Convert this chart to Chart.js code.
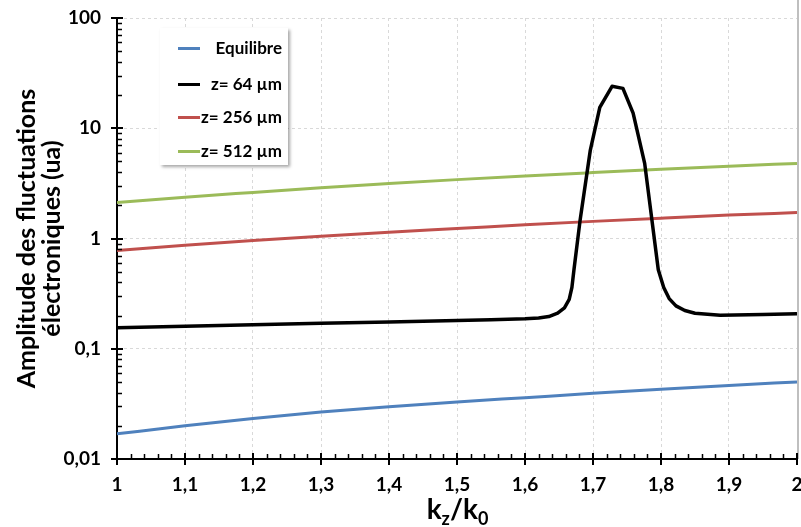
<!DOCTYPE html>
<html>
<head>
<meta charset="utf-8">
<script src="https://cdn.jsdelivr.net/npm/chart.js@4.4.1/dist/chart.umd.min.js"></script>
<style>
  html, body { margin: 0; padding: 0; background: #fff; }
  #wrap { position: relative; width: 801px; height: 527px; }
  #legend { position: absolute; left: 160px; top: 28px; width: 128px; height: 137px; background: #fff;
            box-shadow: 2px 2px 3px rgba(0,0,0,0.35); font: bold 17px Lato, sans-serif; color: #000; }
  .item { position: absolute; left: 0; width: 128px; height: 20px; }
  .swatch { position: absolute; left: 18px; top: 9px; width: 22px; height: 3px; }
  .txt { position: absolute; right: 6px; top: 0; line-height: 20px; white-space: nowrap; }
  #xtitle { position: absolute; left: 57px; width: 801px; top: 493px; text-align: center;
            font: bold 28px Lato, sans-serif; line-height: 30px; color: #000; }
  #xtitle sub { font-size: 18px; vertical-align: -6px; line-height: 0; }
</style>
</head>
<body>
<div id="wrap">
  <canvas id="myChart" width="801" height="527"></canvas>
  <div id="legend"></div>
  <div id="xtitle">k<sub>z</sub>/k<sub>0</sub></div>
</div>
<script>
'use strict';

// ******* DATA *******
let seriesNames = ['Equilibre', 'z= 64 \u00b5m', 'z= 256 \u00b5m', 'z= 512 \u00b5m'];
let seriesColors = ['#4f81bd', '#000000', '#c0504d', '#9bbb59'];

// smooth curves share the same x positions
let xSmooth = [1, 1.1, 1.2, 1.3, 1.4, 1.5, 1.6, 1.7, 1.8, 1.9, 2];
let yEquilibre = [0.0169, 0.0200, 0.0233, 0.0267, 0.0298, 0.0329, 0.0360, 0.0394, 0.0430, 0.0465, 0.0500];
let yZ256 = [0.78, 0.87, 0.96, 1.05, 1.14, 1.23, 1.33, 1.43, 1.53, 1.63, 1.72];
let yZ512 = [2.12, 2.37, 2.62, 2.89, 3.15, 3.42, 3.69, 3.96, 4.24, 4.52, 4.80];

// the peaked curve
let xZ64 = [1, 1.1, 1.2, 1.3, 1.4, 1.5, 1.55, 1.6, 1.62, 1.635, 1.648, 1.658, 1.665, 1.669, 1.672, 1.681, 1.696, 1.71,
  1.728, 1.744, 1.759, 1.776, 1.796, 1.804, 1.812, 1.822, 1.835, 1.85, 1.887, 1.95, 2];
let yZ64 = [0.155, 0.160, 0.165, 0.170, 0.175, 0.180, 0.183, 0.187, 0.190, 0.196, 0.210, 0.235, 0.28, 0.36, 0.52, 1.46, 6.3, 15.5,
  24, 23, 13.7, 4.8, 0.52, 0.36, 0.285, 0.245, 0.222, 0.210, 0.201, 0.204, 0.208];

// axis ticks
let xTicks = [1, 1.1, 1.2, 1.3, 1.4, 1.5, 1.6, 1.7, 1.8, 1.9, 2];
let xTickLabels = ['1', '1,1', '1,2', '1,3', '1,4', '1,5', '1,6', '1,7', '1,8', '1,9', '2'];
let yTicks = [0.01, 0.1, 1, 10, 100];
let yTickLabels = ['0,01', '0,1', '1', '10', '100'];

// ******* HELPERS *******
function toPoints(xs, ys) {
  let pts = [];
  for (let i = 0; i < xs.length; i++) {
    pts.push({ x: xs[i], y: ys[i] });
  }
  return pts;
}

function makeDataset(idx, xs, ys, width, smooth) {
  return {
    label: seriesNames[idx],
    data: toPoints(xs, ys),
    borderColor: seriesColors[idx],
    backgroundColor: seriesColors[idx],
    borderWidth: width,
    pointRadius: 0,
    tension: 0,
    cubicInterpolationMode: smooth ? 'monotone' : 'default',
    borderJoinStyle: 'round',
    fill: false
  };
}

// minor ticks + crossing major ticks, drawn like the spreadsheet axes
const axisTicks = {
  id: 'axisTicks',
  afterDraw(chart) {
    const { ctx, chartArea } = chart;
    const xs = chart.scales.x;
    const ys = chart.scales.y;
    ctx.save();

    // right frame line
    ctx.strokeStyle = '#bfbfbf';
    ctx.lineWidth = 2;
    ctx.beginPath();
    ctx.moveTo(chartArea.right + 1, 0);
    ctx.lineTo(chartArea.right + 1, chartArea.bottom);
    ctx.stroke();

    ctx.strokeStyle = '#000';
    ctx.lineWidth = 1.5;
    ctx.beginPath();
    for (let d = 0; d < yTicks.length - 1; d++) {
      for (let k = 2; k < 10; k++) {
        let py = Math.round(ys.getPixelForValue(k * yTicks[d])) + 0.5;
        ctx.moveTo(chartArea.left, py);
        ctx.lineTo(chartArea.left + 5, py);
      }
    }
    for (let i = 0; i <= 50; i++) {
      if (i % 5 === 0) continue;
      let px = Math.round(xs.getPixelForValue(xTicks[0] + i * 0.02)) + 0.5;
      ctx.moveTo(px, chartArea.bottom);
      ctx.lineTo(px, chartArea.bottom - 5);
    }
    ctx.stroke();

    ctx.lineWidth = 2;
    ctx.beginPath();
    for (let i = 0; i < yTicks.length; i++) {
      let py = Math.round(ys.getPixelForValue(yTicks[i]));
      ctx.moveTo(chartArea.left - 6, py);
      ctx.lineTo(chartArea.left + 6, py);
    }
    for (let i = 0; i < xTicks.length; i++) {
      let px = Math.round(xs.getPixelForValue(xTicks[i]));
      ctx.moveTo(px, chartArea.bottom - 6);
      ctx.lineTo(px, chartArea.bottom + 6);
    }
    ctx.stroke();
    ctx.restore();
  }
};

// ******* CHART *******
let canvasElem = document.getElementById('myChart').getContext('2d');

let myChartObj = {
  type: 'line',
  data: {
    datasets: [
      makeDataset(0, xSmooth, yEquilibre, 3, true),
      makeDataset(1, xZ64, yZ64, 3.5, false),
      makeDataset(2, xSmooth, yZ256, 3, true),
      makeDataset(3, xSmooth, yZ512, 3, true)
    ]
  },
  options: {
    responsive: false,
    animation: false,
    devicePixelRatio: 1,
    layout: { padding: { top: 18, right: 4, left: 0, bottom: 0 } },
    plugins: {
      legend: { display: false },
      tooltip: { enabled: false }
    },
    scales: {
      x: {
        type: 'linear',
        min: 1,
        max: 2,
        afterBuildTicks: (scale) => { scale.ticks = xTicks.map(v => ({ value: v })); },
        afterFit: (scale) => {
          scale.height = 68;
          scale.paddingLeft = 0;
          scale.paddingRight = 0;
        },
        ticks: {
          padding: 14,
          color: '#000',
          font: { family: 'Lato', size: 19, weight: 'bold' },
          maxRotation: 0,
          callback: (value) => xTickLabels[xTicks.indexOf(Math.round(value * 10) / 10)]
        },
        grid: { color: '#d9d9d9', drawTicks: false },
        border: { color: '#000', width: 2, dash: [3, 3] }
      },
      y: {
        type: 'logarithmic',
        min: 0.01,
        max: 100,
        afterBuildTicks: (scale) => { scale.ticks = yTicks.map(v => ({ value: v })); },
        afterFit: (scale) => {
          scale.width = 117;
          scale.paddingTop = 0;
          scale.paddingBottom = 0;
        },
        ticks: {
          padding: 16,
          color: '#000',
          font: { family: 'Lato', size: 19, weight: 'bold' },
          callback: (value) => yTickLabels[yTicks.findIndex(v => Math.abs(v - value) < v * 1e-6)]
        },
        grid: { color: '#d9d9d9', drawTicks: false },
        border: { color: '#000', width: 2, dash: [3, 3] },
        title: {
          display: true,
          text: ['Amplitude des fluctuations', '\u00e9lectroniques (ua)'],
          color: '#000',
          font: { family: 'Lato', size: 25, weight: 'bold', lineHeight: 1.0 },
          padding: { top: 14, bottom: 0 }
        }
      }
    }
  },
  plugins: [axisTicks]
};

let myChart = new Chart(canvasElem, myChartObj);

// ******* HTML LEGEND *******
let legendElem = document.getElementById('legend');
let legendTops = [10, 46, 79, 113];
for (let i = 0; i < seriesNames.length; i++) {
  let item = document.createElement('div');
  item.className = 'item';
  item.style.top = legendTops[i] + 'px';
  let sw = document.createElement('div');
  sw.className = 'swatch';
  sw.style.background = seriesColors[i];
  let txt = document.createElement('span');
  txt.className = 'txt';
  txt.textContent = seriesNames[i];
  item.appendChild(sw);
  item.appendChild(txt);
  legendElem.appendChild(item);
}
</script>
</body>
</html>
